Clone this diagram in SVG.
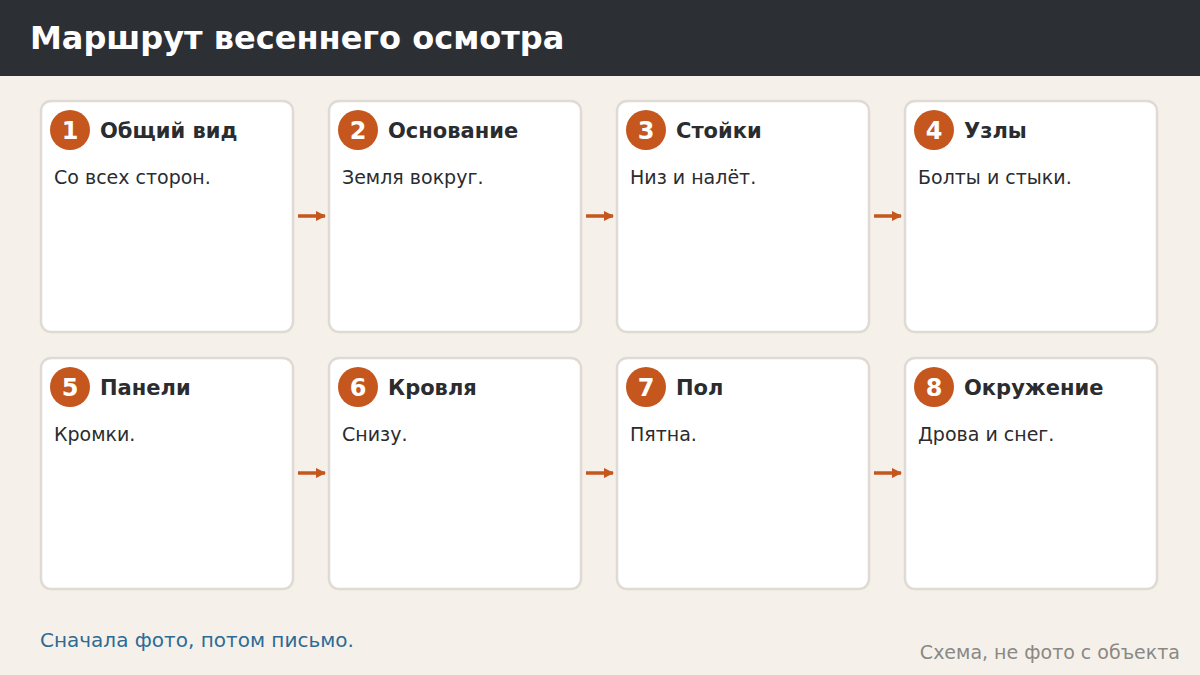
<svg xmlns="http://www.w3.org/2000/svg" width="1200" height="675" viewBox="0 0 1200 675">
<defs>
<style>
.card{fill:#ffffff;stroke:#e0dbd2;stroke-width:2.5}
.badge{fill:#c4561e}
.num{font-family:"DejaVu Sans",sans-serif;font-weight:bold;font-size:24px;fill:#ffffff;text-anchor:middle}
.title{font-family:"DejaVu Sans",sans-serif;font-weight:bold;font-size:21px;fill:#2a2c30}
.body{font-family:"DejaVu Sans",sans-serif;font-size:19px;fill:#2a2c30}
.conn{stroke:#c4561e;stroke-width:3.5;fill:none}
</style>
<marker id="ah" viewBox="0 0 10 10" refX="9" refY="5" markerWidth="3" markerHeight="3" orient="auto" markerUnits="strokeWidth">
<path d="M0,0 L10,5 L0,10 z" fill="#c4561e"/>
</marker>
</defs>
<rect width="1200" height="675" fill="#f5f1ea"/>
<rect width="1200" height="76" fill="#2c2f34"/>
<text x="30" y="49" font-family="'DejaVu Sans',sans-serif" font-weight="bold" font-size="32" fill="#ffffff">Маршрут весеннего осмотра</text>

<g id="node1"><rect class="card" x="41" y="101" width="252" height="231" rx="10"/><circle class="badge" cx="70" cy="130" r="20"/><text class="num" x="70" y="139">1</text><text class="title" x="100" y="138">Общий вид</text><text class="body" x="54" y="184">Со всех сторон.</text></g>
<g id="node2"><rect class="card" x="329" y="101" width="252" height="231" rx="10"/><circle class="badge" cx="358" cy="130" r="20"/><text class="num" x="358" y="139">2</text><text class="title" x="388" y="138">Основание</text><text class="body" x="342" y="184">Земля вокруг.</text></g>
<g id="node3"><rect class="card" x="617" y="101" width="252" height="231" rx="10"/><circle class="badge" cx="646" cy="130" r="20"/><text class="num" x="646" y="139">3</text><text class="title" x="676" y="138">Стойки</text><text class="body" x="630" y="184">Низ и налёт.</text></g>
<g id="node4"><rect class="card" x="905" y="101" width="252" height="231" rx="10"/><circle class="badge" cx="934" cy="130" r="20"/><text class="num" x="934" y="139">4</text><text class="title" x="964" y="138">Узлы</text><text class="body" x="918" y="184">Болты и стыки.</text></g>
<g id="node5"><rect class="card" x="41" y="358" width="252" height="231" rx="10"/><circle class="badge" cx="70" cy="387" r="20"/><text class="num" x="70" y="396">5</text><text class="title" x="100" y="395">Панели</text><text class="body" x="54" y="441">Кромки.</text></g>
<g id="node6"><rect class="card" x="329" y="358" width="252" height="231" rx="10"/><circle class="badge" cx="358" cy="387" r="20"/><text class="num" x="358" y="396">6</text><text class="title" x="388" y="395">Кровля</text><text class="body" x="342" y="441">Снизу.</text></g>
<g id="node7"><rect class="card" x="617" y="358" width="252" height="231" rx="10"/><circle class="badge" cx="646" cy="387" r="20"/><text class="num" x="646" y="396">7</text><text class="title" x="676" y="395">Пол</text><text class="body" x="630" y="441">Пятна.</text></g>
<g id="node8"><rect class="card" x="905" y="358" width="252" height="231" rx="10"/><circle class="badge" cx="934" cy="387" r="20"/><text class="num" x="934" y="396">8</text><text class="title" x="964" y="395">Окружение</text><text class="body" x="918" y="441">Дрова и снег.</text></g>

<g id="connectors">
<line class="conn" x1="298" y1="216" x2="325" y2="216" marker-end="url(#ah)"/>
<line class="conn" x1="586" y1="216" x2="613" y2="216" marker-end="url(#ah)"/>
<line class="conn" x1="874" y1="216" x2="901" y2="216" marker-end="url(#ah)"/>
<line class="conn" x1="298" y1="473" x2="325" y2="473" marker-end="url(#ah)"/>
<line class="conn" x1="586" y1="473" x2="613" y2="473" marker-end="url(#ah)"/>
<line class="conn" x1="874" y1="473" x2="901" y2="473" marker-end="url(#ah)"/>
</g>

<text x="40" y="647" font-family="'DejaVu Sans',sans-serif" font-size="20" fill="#2e6a94">Сначала фото, потом письмо.</text>
<text x="1180" y="659" text-anchor="end" font-family="'DejaVu Sans',sans-serif" font-size="19" fill="#8a8884">Схема, не фото с объекта</text>
</svg>
